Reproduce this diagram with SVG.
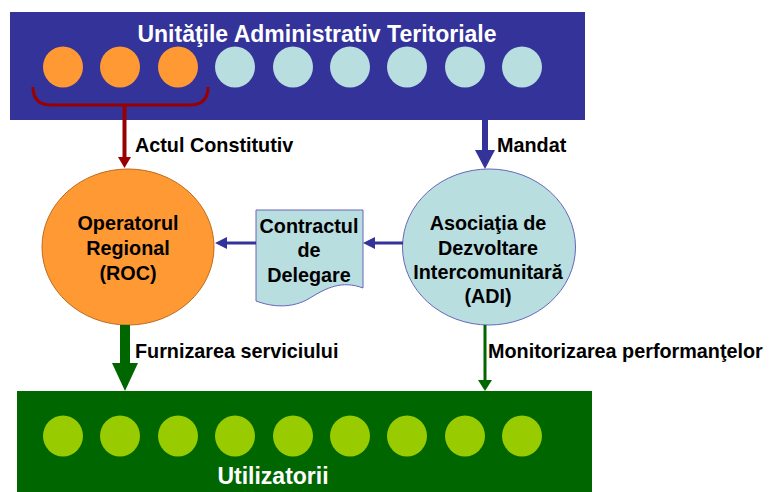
<svg xmlns="http://www.w3.org/2000/svg" width="769" height="492" viewBox="0 0 769 492">
<style>
text{font-family:"Liberation Sans",Arial,sans-serif;font-weight:bold;text-anchor:middle}
.lbl{font-size:19.8px;fill:#000}
.lbl-l{font-size:19.8px;fill:#000;text-anchor:start}
.title{font-size:23px;fill:#fff}
.orange{fill:#FF9933}
.lblue{fill:#B8DEE0}
.lgreen{fill:#99CC00}
</style>
<g id="uat">
<rect x="10" y="12" width="575" height="108" fill="#333399"/>
<text class="title" x="317" y="42">Unităţile Administrativ Teritoriale</text>
<ellipse class="orange" cx="63" cy="67" rx="20" ry="20.5"/>
<ellipse class="orange" cx="120" cy="67" rx="20" ry="20.5"/>
<ellipse class="orange" cx="178" cy="67" rx="20" ry="20.5"/>
<ellipse class="lblue" cx="235" cy="67" rx="20" ry="20.5"/>
<ellipse class="lblue" cx="293" cy="67" rx="20" ry="20.5"/>
<ellipse class="lblue" cx="350" cy="67" rx="20" ry="20.5"/>
<ellipse class="lblue" cx="407" cy="67" rx="20" ry="20.5"/>
<ellipse class="lblue" cx="465" cy="67" rx="20" ry="20.5"/>
<ellipse class="lblue" cx="522" cy="67" rx="20" ry="20.5"/>
</g>
<g id="utilizatori">
<rect x="17" y="391" width="575" height="110" fill="#006600"/>
<ellipse class="lgreen" cx="63" cy="436" rx="20" ry="20.5"/>
<ellipse class="lgreen" cx="120" cy="436" rx="20" ry="20.5"/>
<ellipse class="lgreen" cx="178" cy="436" rx="20" ry="20.5"/>
<ellipse class="lgreen" cx="235" cy="436" rx="20" ry="20.5"/>
<ellipse class="lgreen" cx="293" cy="436" rx="20" ry="20.5"/>
<ellipse class="lgreen" cx="350" cy="436" rx="20" ry="20.5"/>
<ellipse class="lgreen" cx="407" cy="436" rx="20" ry="20.5"/>
<ellipse class="lgreen" cx="465" cy="436" rx="20" ry="20.5"/>
<ellipse class="lgreen" cx="522" cy="436" rx="20" ry="20.5"/>
<text class="title" x="273" y="484">Utilizatorii</text>
</g>
<g id="roc">
<ellipse cx="128" cy="247" rx="86" ry="78" fill="#FF9933" stroke="#C06A1A" stroke-width="1"/>
<text class="lbl" x="128" y="230">Operatorul</text>
<text class="lbl" x="128" y="255">Regional</text>
<text class="lbl" x="128" y="280">(ROC)</text>
</g>
<g id="adi">
<ellipse cx="489" cy="247" rx="86.5" ry="78" fill="#B8DEE0" stroke="#6666BB" stroke-width="1"/>
<text class="lbl" x="488" y="230">Asociaţia de</text>
<text class="lbl" x="488" y="255">Dezvoltare</text>
<text class="lbl" x="488" y="279">Intercomunitară</text>
<text class="lbl" x="488" y="303">(ADI)</text>
</g>
<g id="contract">
<path d="M256,210 L363,210 L363,288 C342,280 326,288 310,298 C292,309 272,307 256,301 Z" fill="#B8DEE0" stroke="#6666BB" stroke-width="1"/>
<text class="lbl" x="309" y="233">Contractul</text>
<text class="lbl" x="309" y="257">de</text>
<text class="lbl" x="309" y="282">Delegare</text>
</g>
<g id="connectors">
<path d="M33,87 Q33,105 51,105 L190,105 Q208,105 208,87" fill="none" stroke="#990000" stroke-width="3"/>
<line x1="124.5" y1="105" x2="124.5" y2="158" stroke="#990000" stroke-width="4"/>
<polygon points="118,157 131,157 124.5,168" fill="#990000"/>
<text class="lbl-l" x="135" y="152">Actul Constitutiv</text>
<rect x="482" y="120" width="6" height="31" fill="#333399"/>
<polygon points="475,150 495,150 485,169" fill="#333399"/>
<text class="lbl-l" x="497" y="152">Mandat</text>
<line x1="403" y1="243" x2="374" y2="243" stroke="#333399" stroke-width="3"/>
<polygon points="375,237 375,249 363,243" fill="#333399"/>
<line x1="256" y1="243" x2="226" y2="243" stroke="#333399" stroke-width="3"/>
<polygon points="227,237 227,249 215,243" fill="#333399"/>
<rect x="120" y="325" width="10" height="39" fill="#006600"/>
<polygon points="112,363 138,363 125,391" fill="#006600"/>
<text class="lbl-l" x="135" y="358">Furnizarea serviciului</text>
<line x1="485" y1="325" x2="485" y2="381" stroke="#006600" stroke-width="3"/>
<polygon points="478,380 492,380 485,391" fill="#006600"/>
<text class="lbl-l" x="488" y="358">Monitorizarea performanţelor</text>
</g>
</svg>
